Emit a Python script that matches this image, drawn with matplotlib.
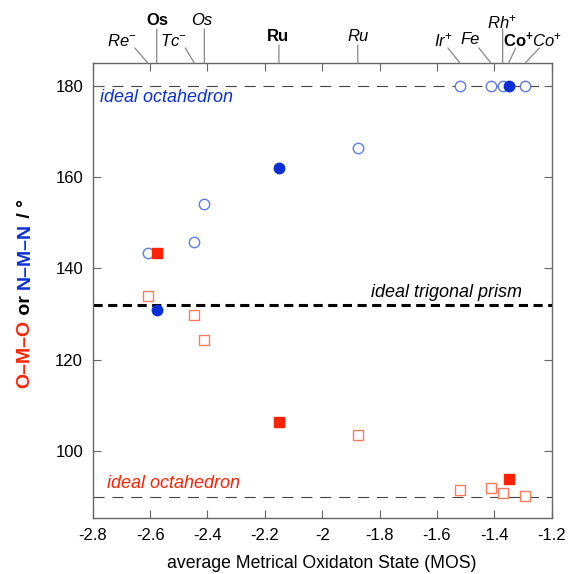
import matplotlib
matplotlib.use("Agg")
import matplotlib.pyplot as plt
import matplotlib.transforms as mtransforms

plt.rcParams['font.family'] = ['Liberation Sans', 'DejaVu Sans']
plt.rcParams['mathtext.fontset'] = 'custom'
plt.rcParams['mathtext.rm'] = 'Liberation Sans'
plt.rcParams['mathtext.it'] = 'Liberation Sans:italic'
plt.rcParams['mathtext.bf'] = 'Liberation Sans:bold'

# compounds, in order of MOS
labels = ['Re$^{-}$', 'Os', 'Tc$^{-}$', 'Os', 'Ru', 'Ru',
          'Ir$^{+}$', 'Fe', 'Rh$^{+}$', 'Co$^{\\mathbf{+}}$', 'Co$^{+}$']
bold = [False, True, False, False, True, False, False, False, False, True, False]
mos = [-2.608, -2.577, -2.446, -2.411, -2.151, -1.876,
       -1.520, -1.412, -1.371, -1.350, -1.292]
nmn = [143.4, 130.8, 145.7, 154.0, 162.0, 166.3,
       180.0, 180.0, 180.0, 180.0, 180.0]
omo = [133.9, 143.4, 129.7, 124.2, 106.4, 103.4,
       91.4, 91.9, 90.8, 93.8, 90.1]

ideal_oct_nmn = 180
ideal_oct_omo = 90
ideal_prism = 131.9

# label placement above the top spine (pixel offsets: text centre, line end)
lab_off = [(-26, 22, -13, 15), (1, 42, 0, 34), (-21, 22, -9, 15), (-3, 42, 0, 34),
           (-1, 26, 0, 18), (0, 26, 0, 18), (-17, 23, -12, 15), (-21, 23, -12, 15),
           (-1, 41, 0, 34), (10, 23, 7, 15), (22, 23, 14, 15)]

blue_f = '#0a2fd8'
blue_o = '#5f7ceb'
red_f = '#ff2200'
red_o = '#ff7a5c'
grey = '#666666'

fig = plt.figure(figsize=(5.69, 5.74), dpi=100)
ax = fig.add_axes([0.163, 0.0976, 0.8066, 0.7927])

ax.axhline(ideal_oct_nmn, color='#444444', lw=0.8, dashes=(10, 7), zorder=1)
ax.axhline(ideal_oct_omo, color='#444444', lw=0.8, dashes=(10, 7), zorder=1)
ax.axhline(ideal_prism, color='black', lw=2.2, dashes=(3, 1.8), zorder=1)

for x, a, b, f in zip(mos, nmn, omo, bold):
    if f:
        ax.plot(x, a, 'o', ms=7.5, mfc=blue_f, mec=blue_f, mew=1, zorder=3)
        ax.plot(x, b, 's', ms=7, mfc=red_f, mec=red_f, mew=1, zorder=3)
    else:
        ax.plot(x, a, 'o', ms=7.5, mfc='white', mec=blue_o, mew=1, zorder=2)
        ax.plot(x, b, 's', ms=7, mfc='white', mec=red_o, mew=1, zorder=2)

ax.text(-2.775, 177.4, 'ideal octahedron', color=blue_f, style='italic',
        fontsize=13, va='center')
ax.text(-2.75, 91.0, 'ideal octahedron', color=red_f, style='italic',
        fontsize=13, va='bottom')
ax.text(-1.304, 132.8, 'ideal trigonal prism', color='black', style='italic',
        fontsize=13, ha='right', va='bottom')

ax.set_xlim(-2.8, -1.2)
ax.set_ylim(85.3, 185)
ax.set_xticks([-2.8, -2.6, -2.4, -2.2, -2.0, -1.8, -1.6, -1.4, -1.2])
ax.set_xticklabels(['-2.8', '-2.6', '-2.4', '-2.2', '-2', '-1.8', '-1.6', '-1.4', '-1.2'])
ax.set_yticks([100, 120, 140, 160, 180])
ax.tick_params(direction='in', length=6, width=0.8, color=grey, labelsize=12,
               top=True, right=True, pad=7)
for s in ax.spines.values():
    s.set_color(grey)
    s.set_linewidth(1)

ax.set_xlabel('average Metrical Oxidaton State (MOS)', fontsize=12.7, labelpad=9)

# compound labels above the plot
trans = mtransforms.blended_transform_factory(ax.transData, ax.transAxes)
for x, lab, f, (tx, ty, lx, ly) in zip(mos, labels, bold, lab_off):
    ax.annotate('', xy=(x, 1), xycoords=trans, xytext=(lx * 0.72, ly * 0.72),
                textcoords='offset points',
                arrowprops=dict(arrowstyle='-', color='#888888', lw=0.9,
                                shrinkA=0, shrinkB=0))
    ax.annotate(lab, xy=(x, 1), xycoords=trans, xytext=(tx * 0.72, ty * 0.72),
                textcoords='offset points', ha='center', va='center',
                fontsize=12, fontweight='bold' if f else 'normal',
                fontstyle='normal' if f else 'italic', annotation_clip=False)

# multi-coloured y label, stacked bottom to top
parts = [('O\u2013M\u2013O', red_f), (' or ', 'black'),
         ('N\u2013M\u2013N', blue_f), (' / \u00b0', 'black')]
fig.canvas.draw()
r = fig.canvas.get_renderer()
heights = []
for txt, c in parts:
    t = fig.text(0, 0, txt, rotation=90, fontsize=14, fontweight='bold', color=c)
    heights.append(t.get_window_extent(r).height)
    t.remove()
total = sum(heights)
y0 = (574 - 293.5) - total / 2
for (txt, c), h in zip(parts, heights):
    fig.text(25 / 569, y0 / 574, txt, rotation=90, fontsize=14, fontweight='bold',
             color=c, ha='left', va='center', rotation_mode='anchor')
    y0 += h

fig.savefig('out.png', dpi=100)
